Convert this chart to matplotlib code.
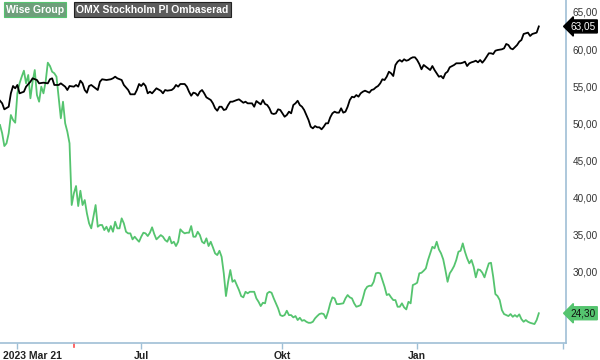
import matplotlib
matplotlib.use("Agg")
from matplotlib import pyplot as plt
from matplotlib.transforms import ScaledTranslation

plt.rcParams['font.family'] = ['Liberation Sans', 'DejaVu Sans']

# trading session index (0 = first session shown) and closing values
omx_s = [0, 1, 2, 4, 5, 6, 7, 8, 9, 11, 12, 14, 15, 17, 18, 20, 22, 23, 24, 25,
         27, 28, 30, 31, 32, 34, 35, 36, 37, 38, 39, 40, 41, 42, 44, 45, 46, 47, 49, 51,
         52, 53, 54, 56, 57, 59, 60, 62, 63, 64, 65, 66, 67, 68, 69, 70, 72, 74, 75, 76,
         77, 79, 80, 81, 82, 83, 85, 86, 87, 88, 89, 90, 91, 92, 93, 94, 95, 97, 98, 99,
         100, 101, 102, 103, 104, 105, 106, 107, 109, 110, 112, 113, 114, 116, 117, 118, 119, 120, 121, 122,
         123, 124, 125, 126, 127, 128, 129, 130, 131, 132, 133, 134, 135, 136, 137, 138, 139, 140, 141, 142,
         143, 144, 145, 146, 147, 148, 149, 150, 151, 152, 153, 154, 155, 156, 157, 158, 159, 160, 161, 162,
         163, 164, 165, 166, 167, 168, 169, 170, 171, 172, 173, 174, 175, 176, 177, 178, 179, 180, 181, 182,
         183, 184, 185, 186, 187, 188, 189, 190, 191, 192, 193, 194, 195, 196, 197, 198, 199, 200, 201, 202,
         203, 204, 205, 206, 207, 209, 210, 212, 213, 214, 215, 216, 217, 218, 219, 220, 221, 222, 223, 224,
         225, 226, 227, 228, 229, 231, 232, 233, 234, 235, 236, 238, 239, 240, 241, 242, 243, 244, 245, 247,
         248]
omx_v = [53.01, 52.66, 51.85, 52.20, 54.01, 55.00, 54.69, 55.14, 54.01, 54.23, 54.91, 55.58, 56.04, 55.81, 55.36, 55.45, 55.36, 55.91, 56.04, 55.14,
         55.14, 55.36, 54.91, 54.46, 55.00, 54.91, 55.14, 54.91, 55.72, 55.36, 54.46, 54.09, 55.00, 55.14, 54.69, 54.46, 55.58, 55.91, 55.81, 55.91,
         56.04, 56.26, 56.04, 55.81, 55.14, 54.46, 53.88, 53.88, 54.46, 55.27, 55.00, 55.36, 55.00, 54.01, 54.23, 54.01, 54.69, 54.36, 54.01, 54.46,
         54.37, 54.46, 54.69, 55.14, 54.91, 55.27, 55.27, 54.91, 54.23, 53.69, 54.10, 54.01, 53.69, 54.23, 54.46, 54.01, 53.47, 53.11, 52.66, 51.99,
         51.66, 52.20, 52.20, 51.76, 51.85, 52.43, 52.88, 52.88, 53.11, 53.20, 52.74, 52.88, 52.66, 52.66, 52.20, 52.97, 52.74, 52.52, 53.11, 52.57,
         52.43, 51.99, 51.31, 51.22, 51.31, 51.85, 51.76, 51.31, 50.85, 51.08, 51.53, 51.31, 52.43, 52.66, 53.01, 52.43, 52.20, 51.76, 51.08, 50.41,
         49.50, 49.28, 49.59, 49.42, 49.42, 49.15, 49.50, 49.96, 49.96, 50.77, 51.31, 51.53, 51.40, 51.40, 51.99, 51.40, 51.53, 52.20, 53.11, 53.55,
         53.47, 53.78, 53.56, 54.01, 54.23, 54.37, 54.23, 54.10, 54.46, 54.55, 54.82, 55.00, 55.36, 55.91, 55.81, 56.26, 56.93, 56.72, 56.35, 57.84,
         58.28, 58.51, 58.29, 58.61, 58.42, 58.51, 58.74, 58.88, 58.88, 58.51, 57.97, 57.26, 57.84, 57.61, 57.39, 57.16, 57.70, 57.16, 56.71, 56.26,
         56.35, 56.03, 56.71, 56.94, 57.53, 57.84, 58.07, 58.07, 58.15, 58.29, 57.70, 58.06, 58.20, 58.29, 58.42, 58.20, 58.51, 58.15, 58.51, 58.96,
         59.42, 59.42, 59.32, 59.77, 59.86, 59.96, 60.09, 60.68, 60.54, 60.09, 59.96, 60.54, 60.99, 61.22, 62.03, 62.12, 62.21, 61.76, 62.03, 62.21,
         63.05]

wise_s = [0, 1, 2, 3, 4, 5, 6, 7, 8, 9, 10, 11, 12, 13, 14, 15, 16, 17, 18, 19,
          20, 21, 22, 23, 24, 25, 26, 27, 28, 29, 30, 31, 32, 33, 34, 35, 36, 37, 38, 39,
          40, 41, 42, 43, 44, 45, 46, 47, 48, 49, 50, 51, 52, 53, 54, 55, 56, 57, 58, 59,
          60, 61, 62, 63, 64, 65, 66, 67, 68, 69, 70, 71, 72, 74, 75, 76, 77, 78, 79, 80,
          81, 82, 83, 84, 85, 86, 87, 88, 89, 90, 91, 92, 93, 94, 95, 96, 97, 98, 99, 100,
          101, 102, 103, 104, 105, 106, 107, 108, 109, 110, 111, 112, 113, 114, 115, 116, 117, 118, 119, 120,
          121, 122, 123, 124, 125, 126, 127, 128, 129, 130, 131, 132, 133, 134, 135, 136, 137, 138, 139, 140,
          141, 142, 143, 144, 145, 146, 147, 148, 149, 150, 151, 152, 153, 154, 155, 156, 158, 159, 160, 161,
          162, 163, 164, 165, 166, 167, 168, 169, 170, 171, 172, 173, 174, 175, 176, 177, 178, 179, 180, 181,
          182, 183, 184, 185, 186, 187, 188, 189, 190, 191, 192, 193, 194, 195, 196, 197, 198, 199, 200, 201,
          202, 203, 204, 205, 206, 207, 208, 209, 210, 211, 212, 213, 214, 215, 216, 217, 218, 219, 220, 221,
          222, 223, 224, 225, 226, 227, 228, 229, 230, 231, 232, 233, 234, 235, 236, 237, 238, 239, 240, 241,
          242, 243, 244, 245, 246, 247, 248]
wise_v = [49.73, 48.61, 46.89, 47.26, 48.61, 51.08, 50.41, 50.04, 54.01, 55.36, 56.26, 57.07, 55.36, 56.49, 53.34, 55.58, 57.16, 53.78, 52.88, 54.91,
          54.01, 55.58, 58.15, 57.70, 56.93, 56.72, 56.26, 53.38, 50.64, 52.88, 49.96, 48.82, 47.26, 38.92, 40.50, 41.49, 38.78, 40.85, 38.92, 39.59,
          37.80, 36.45, 35.77, 37.34, 38.92, 35.99, 36.22, 36.22, 35.54, 35.99, 35.31, 36.08, 35.31, 36.66, 35.77, 35.77, 37.12, 36.45, 35.31, 35.09,
          35.09, 34.28, 34.64, 34.28, 33.96, 34.64, 35.18, 35.09, 34.73, 35.18, 35.91, 35.00, 34.28, 34.86, 34.64, 34.19, 33.96, 34.64, 33.74, 33.96,
          33.38, 33.96, 35.64, 35.31, 35.09, 35.18, 35.18, 36.08, 34.64, 34.64, 35.31, 34.86, 33.96, 33.74, 34.42, 33.38, 33.96, 33.20, 32.39, 32.16,
          32.74, 31.93, 29.69, 26.62, 28.55, 30.14, 28.55, 28.78, 28.11, 27.43, 26.62, 26.45, 27.20, 26.99, 27.20, 27.20, 27.20, 26.31, 25.85, 25.27,
          25.72, 25.64, 26.99, 27.20, 27.07, 26.31, 25.64, 24.96, 24.05, 23.92, 24.05, 24.64, 24.05, 24.05, 23.74, 23.92, 23.38, 23.69, 23.28, 23.38,
          23.15, 23.01, 23.01, 23.15, 23.61, 23.92, 24.19, 24.28, 24.19, 23.61, 24.50, 25.64, 26.45, 26.31, 25.54, 25.54, 25.64, 26.31, 26.76, 26.45,
          26.31, 25.64, 25.18, 25.27, 25.41, 26.31, 27.43, 27.88, 28.01, 28.01, 28.55, 29.69, 29.77, 29.69, 28.78, 27.88, 26.76, 26.89, 26.45, 26.08,
          26.08, 25.18, 25.18, 25.64, 25.09, 24.82, 25.85, 25.64, 28.11, 28.24, 28.42, 29.69, 29.77, 30.04, 30.36, 31.49, 32.39, 33.28, 33.07, 33.96,
          32.93, 32.39, 31.58, 30.14, 28.55, 29.69, 30.14, 30.68, 31.49, 32.61, 32.74, 33.74, 32.61, 31.72, 31.04, 31.49, 30.58, 29.15, 30.23, 30.14,
          29.77, 29.15, 30.14, 31.04, 31.12, 29.23, 26.89, 26.62, 26.08, 24.73, 24.19, 24.05, 23.92, 24.19, 23.82, 24.05, 23.82, 24.15, 23.50, 23.15,
          23.38, 23.15, 23.01, 22.93, 22.84, 23.38, 24.30]

tick_s = [8, 65, 130, 192, 259]
tick_labels = ["2023 Mar 21", "Jul", "Okt", "Jan", ""]
event_s = 34
y_ticks = [30, 35, 40, 45, 50, 55, 60, 65]

green = "#55c46f"
spine_col = "#9fbfd6"

fig = plt.figure(figsize=(6, 3.6), dpi=100)
ax = fig.add_axes([0.0, 0.047, 0.9433, 0.953])

ax.plot(wise_s, wise_v, color=green, lw=1.3, solid_joinstyle="round")
ax.plot(omx_s, omx_v, color="black", lw=1.3, solid_joinstyle="round")

ax.set_xlim(0, 260.5)
ax.set_ylim(20.27, 66.62)

for side in ["left", "top"]:
    ax.spines[side].set_visible(False)
for side in ["right", "bottom"]:
    ax.spines[side].set_color(spine_col)
    ax.spines[side].set_linewidth(1.2)

ax.yaxis.tick_right()
ax.set_yticks(y_ticks)
ax.set_yticklabels([f"{v:.2f}".replace(".", ",") for v in y_ticks])
ax.tick_params(axis="y", length=0, pad=5, labelsize=7.2, labelcolor="#333333")

ax.set_xticks(tick_s)
ax.set_xticklabels(tick_labels)
ax.tick_params(axis="x", length=4, width=1, color=spine_col, pad=1.5,
               labelsize=7.5, labelcolor="#222222")
for lab in ax.get_xticklabels():
    lab.set_fontweight("bold")
first = ax.get_xticklabels()[0]
first.set_horizontalalignment("left")
first.set_transform(first.get_transform() + ScaledTranslation(-10.5 / 72, 0, fig.dpi_scale_trans))

# event marker on the time axis
ax.plot([event_s, event_s], [0, -0.012], color="#ff4d4d", lw=1.2,
        transform=ax.get_xaxis_transform(), clip_on=False)

# last-price tags
trans = ax.get_yaxis_transform()
ax.text(1.008, omx_v[-1], f"{omx_v[-1]:.2f}".replace(".", ","), transform=trans,
        ha="left", va="center", fontsize=7.2, color="white",
        bbox=dict(boxstyle="larrow,pad=0.15", fc="black", ec="black"))
ax.text(1.008, wise_v[-1], f"{wise_v[-1]:.2f}".replace(".", ","), transform=trans,
        ha="left", va="center", fontsize=7.2, color="#111111",
        bbox=dict(boxstyle="larrow,pad=0.15", fc=green, ec=green))

# legend labels
fig.text(0.010, 0.973, "Wise Group", ha="left", va="center", fontsize=7.5,
         fontweight="bold", color="white",
         bbox=dict(boxstyle="square,pad=0.22", fc="#6e9f7b", ec=green, lw=0.8))
fig.text(0.127, 0.973, "OMX Stockholm PI Ombaserad", ha="left", va="center", fontsize=7.5,
         fontweight="bold", color="white",
         bbox=dict(boxstyle="square,pad=0.22", fc="#5c5c5c", ec="#222222", lw=0.8))

fig.savefig("out.png", dpi=100)
